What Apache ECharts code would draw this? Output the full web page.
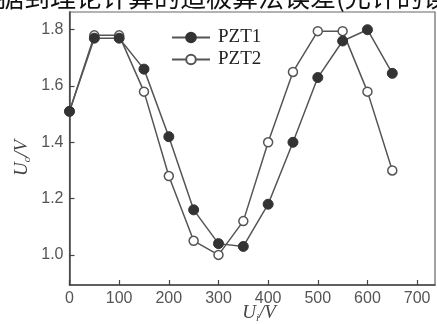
<!DOCTYPE html>
<html>
<head>
<meta charset="utf-8">
<script src="https://cdn.jsdelivr.net/npm/echarts@6/dist/echarts.min.js"></script>
<style>html,body{margin:0;padding:0;background:#fff;}#c{width:437px;height:324px;}</style>
</head>
<body>
<div id="c"></div>
<script>
var xValues = [0, 50, 100, 150, 200, 250, 300, 350, 400, 450, 500, 550, 600, 650];
var pzt1 = [1.51, 1.77, 1.77, 1.66, 1.42, 1.16, 1.04, 1.03, 1.18, 1.40, 1.63, 1.76, 1.80, 1.645];
var pzt2 = [1.51, 1.78, 1.78, 1.58, 1.28, 1.05, 1.00, 1.12, 1.40, 1.65, 1.795, 1.795, 1.58, 1.30];
var xTicks = [0, 100, 200, 300, 400, 500, 600, 700];
var yTicks = [1.0, 1.2, 1.4, 1.6, 1.8];
var seriesNames = ['PZT1', 'PZT2'];
var topText = '据到理论计算的造极算法误差(允许的误';

function pairs(xs, ys) { return xs.map(function (x, i) { return [x, ys[i]]; }); }

var chart = echarts.init(document.getElementById('c'));
var axisColor = '#444';
var lblStyle = { color: '#555', fontSize: 16, fontFamily: 'Liberation Sans' };
var nameRich = {
  u: { fontFamily: 'Liberation Serif', fontStyle: 'italic', fontSize: 19, fill: '#444', lineHeight: 22, verticalAlign: 'middle' },
  s: { fontFamily: 'Liberation Serif', fontStyle: 'italic', fontSize: 11, fill: '#444', verticalAlign: 'bottom' },
  n: { fontFamily: 'Liberation Serif', fontStyle: 'italic', fontSize: 19, fill: '#444', lineHeight: 22, verticalAlign: 'middle' }
};
chart.setOption({
  animation: false,
  backgroundColor: '#fff',
  grid: { left: 69.5, right: 2, top: 12, bottom: 39, show: true, borderColor: '#666', borderWidth: 1.2 },
  xAxis: {
    type: 'value', min: 0, max: 736,
    axisLine: { show: true, lineStyle: { color: axisColor, width: 1.5 } },
    axisTick: { show: true, inside: true, length: 5, customValues: xTicks, lineStyle: { color: axisColor, width: 1.2 } },
    axisLabel: Object.assign({ margin: 6, customValues: xTicks, formatter: function (v) { return String(v); } }, lblStyle),
    splitLine: { show: false }
  },
  yAxis: {
    type: 'value', min: 0.893, max: 1.863,
    axisLine: { show: true, lineStyle: { color: axisColor, width: 1.5 } },
    axisTick: { show: true, inside: true, length: 5, customValues: yTicks, lineStyle: { color: axisColor, width: 1.2 } },
    axisLabel: Object.assign({ margin: 6, customValues: yTicks, formatter: function (v) { return v.toFixed(1); } }, lblStyle),
    splitLine: { show: false }
  },
  legend: {
    orient: 'vertical', left: 166, top: 23, itemWidth: 38, itemHeight: 12, itemGap: 3,
    textStyle: { fontFamily: 'Liberation Serif', fontSize: 19, color: '#222', padding: [0, 0, 0, 3] },
    data: seriesNames
  },
  series: [
    {
      name: seriesNames[1], type: 'line', z: 2, data: pairs(xValues, pzt2),
      symbol: 'circle', symbolSize: 9, showAllSymbol: true,
      lineStyle: { color: '#555', width: 1.5 },
      itemStyle: { color: '#fff', borderColor: '#555', borderWidth: 1.5 }
    },
    {
      name: seriesNames[0], type: 'line', z: 3, data: pairs(xValues, pzt1),
      symbol: 'circle', symbolSize: 10, showAllSymbol: true,
      lineStyle: { color: '#555', width: 1.5 },
      itemStyle: { color: '#333', borderColor: '#333', borderWidth: 1 }
    }
  ],
  graphic: [
    { type: 'text', left: -2, top: -16, style: { text: topText, font: '26px "Noto Sans CJK SC"', fill: '#111' } },
    { type: 'text', x: 22, y: 158, rotation: Math.PI / 2, style: {
        text: '{u|U}{s|o}{n|/V}', align: 'center', verticalAlign: 'middle', rich: nameRich } },
    { type: 'text', x: 259, y: 313, style: {
        text: '{u|U}{s|i}{n|/V}', align: 'center', verticalAlign: 'middle', rich: nameRich } }
  ]
});
</script>
</body>
</html>
